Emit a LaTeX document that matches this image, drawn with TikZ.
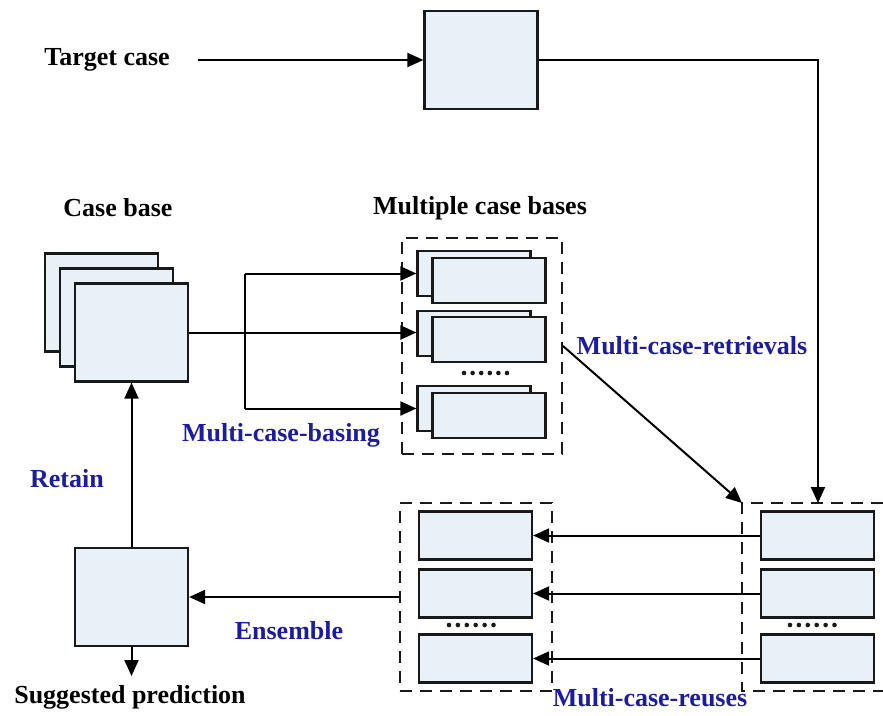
\documentclass[tikz,border=0pt]{standalone}
\usepackage{fontspec}
\setmainfont{Liberation Serif}
\usetikzlibrary{arrows.meta}
\definecolor{boxfill}{RGB}{232,240,248}
\definecolor{lblblue}{RGB}{28,28,158}
\begin{document}
\begin{tikzpicture}[x=1pt,y=-1pt,
  line width=2pt,
  arr/.style={-{Triangle[length=16pt,width=14pt]}},
  box/.style={draw=black!90,fill=boxfill,line width=2.2pt,inner sep=0pt},
  sqbox/.style={box,minimum width=113pt,minimum height=98pt},
  smbox/.style={box,minimum width=113pt,minimum height=48pt},
  dbox/.style={draw=black!90,line width=2pt,dash pattern=on 12pt off 8pt},
  txt/.style={font=\fontsize{26}{30}\selectfont\bfseries,inner sep=0pt},
  blu/.style={txt,text=lblblue},
  dot/.style={fill=black!90,draw=none}]
\useasboundingbox (0,0) rectangle (883,715);

% target case
\node[txt] (tc) at (107,60) {Target case};
\coordinate (tcs) at (198,60);
\node[sqbox] (tgt) at (481,60) {};
\draw[arr] (tcs) -- (tgt.west);

% case base stack
\node[txt] (cbl) at (118,208) {Case base};
\node[sqbox] (cb1) at (101.5,302.5) {};
\node[sqbox] (cb2) at (116.5,317.5) {};
\node[sqbox] (cb3) at (131.5,332.5) {};

% multiple case bases
\node[txt] (mcbl) at (480,208) {Multiple case bases};
\node[dbox,minimum width=160pt,minimum height=216pt,inner sep=0pt] (mcb) at (482,346) {};
\node[smbox,minimum height=45pt] (s1b) at (474,273.5) {};
\node[smbox,minimum height=45pt] (s1f) at (489,280.5) {};
\node[smbox,minimum height=45pt] (s2b) at (474,333.5) {};
\node[smbox,minimum height=45pt] (s2f) at (489,339.5) {};
\node[smbox,minimum height=45pt] (s3b) at (474,408.5) {};
\node[smbox,minimum height=45pt] (s3f) at (489,415.5) {};
\foreach \i in {0,...,5} \fill[dot] (464+8.6*\i,373) circle (2.3pt);

% basing connectors
\coordinate (jt) at (245,273.5);
\coordinate (jb) at (245,408.5);
\draw (jt) -- (jb);
\draw[arr] (cb3.east) -- (cb3.east -| s2b.west);
\draw[arr] (jt) -- (s1b.west);
\draw[arr] (jb) -- (s3b.west);
\node[blu] (mcbasing) at (281,435) {Multi-case-basing};

% right (retrieved) group
\coordinate (rdnw) at (742,503);
\coordinate (rdsw) at (742,691);
\coordinate (rdne) at (883,503);
\coordinate (rdse) at (883,691);
\draw[dbox] (rdne) -- (rdnw) -- (rdsw) -- (rdse);
\node[smbox] (r1) at (817.5,535.5) {};
\node[smbox] (r2) at (817.5,593.5) {};
\node[smbox] (r3) at (817.5,658.5) {};
\foreach \i in {0,...,5} \fill[dot] (790+8.9*\i,625) circle (2.3pt);

% left (reused) group
\node[dbox,minimum width=152pt,minimum height=188pt,inner sep=0pt] (mid) at (476,597) {};
\node[smbox] (l1) at (475.5,535.5) {};
\node[smbox] (l2) at (475.5,593.5) {};
\node[smbox] (l3) at (475.5,658.5) {};
\foreach \i in {0,...,5} \fill[dot] (449+8.9*\i,625) circle (2.3pt);

\draw[arr] (r1.west) -- (l1.east);
\draw[arr] (r2.west) -- (l2.east);
\draw[arr] (r3.west) -- (l3.east);

% target to retrieval
\coordinate (rdt) at (818,503);
\draw[arr] (tgt.east) -| (rdt);
% retrieval diagonal
\draw[arr] (mcb.east) -- (rdnw);
\node[blu] (mcret) at (692,346) {Multi-case-retrievals};
\node[blu] (mcreu) at (650,698) {Multi-case-reuses};

% prediction
\node[sqbox] (pred) at (131.5,597) {};
\draw[arr] (mid.west) -- (pred.east);
\node[blu] (ens) at (289,631) {Ensemble};
\draw[arr] (pred.north) -- (cb3.south);
\node[blu] (ret) at (67,479) {Retain};
\coordinate (out) at (131.5,676);
\draw[arr] (pred.south) -- (out);
\node[txt] (sp) at (130,697) {Suggested prediction};
\end{tikzpicture}
\end{document}
